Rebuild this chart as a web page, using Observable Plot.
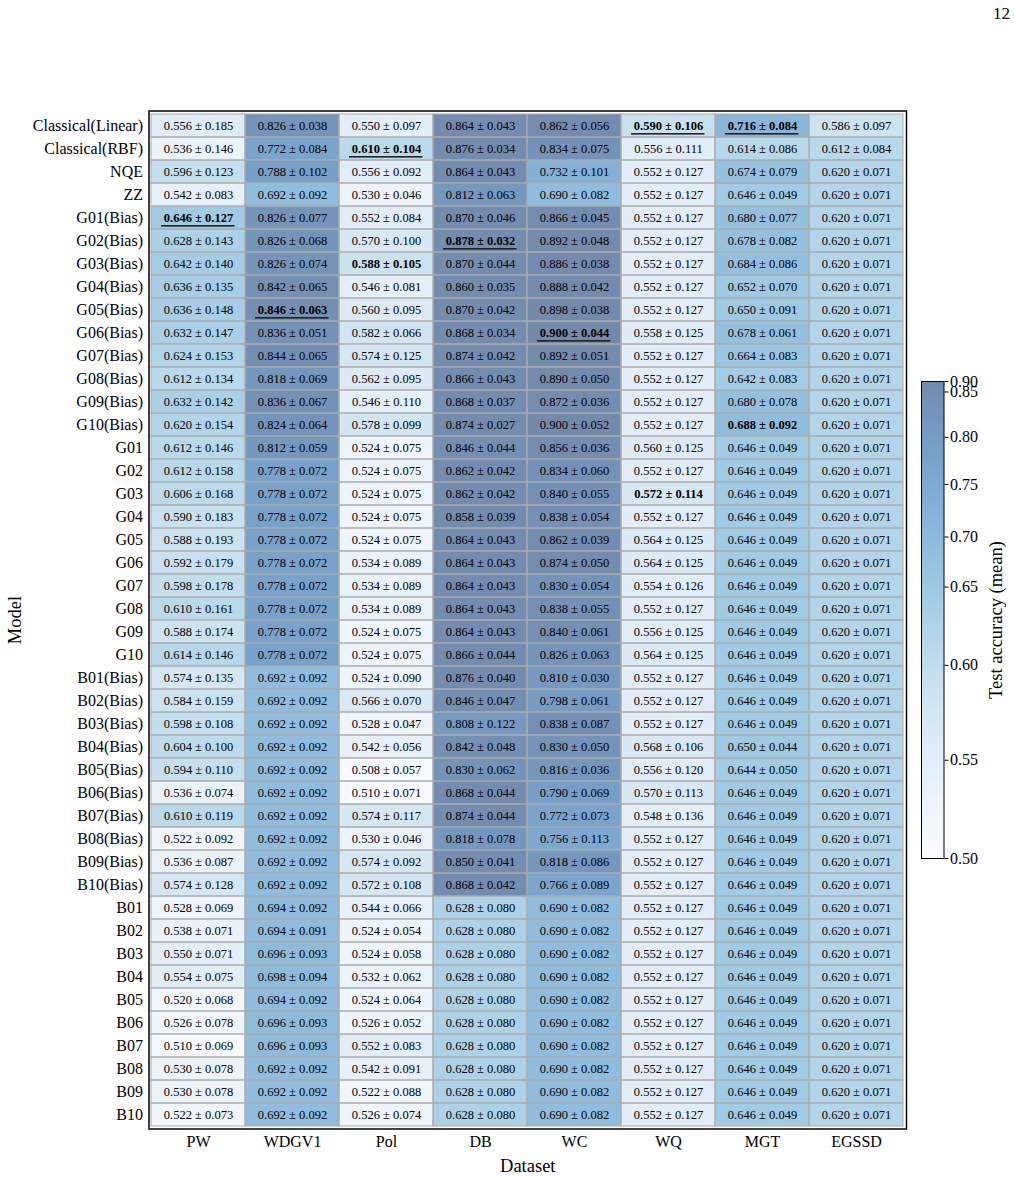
<!DOCTYPE html>
<html><head><meta charset="utf-8">
<script src="https://cdn.jsdelivr.net/npm/d3@7"></script>
<script src="https://cdn.jsdelivr.net/npm/@observablehq/plot@0.6"></script>
<style>
body{margin:0;background:#fff;}
#page{position:relative;width:1015px;height:1177px;overflow:hidden;font-family:"Liberation Serif","Times New Roman",serif;background:#fff;}
#pagenum{position:absolute;right:5px;top:4px;font-size:17px;}
#heat{position:absolute;left:0;top:0;}
#cbar{position:absolute;left:890px;top:360px;}
</style></head><body>
<div id="page"><div id="pagenum">12</div><div id="heat"></div><div id="cbar"></div></div>
<script>
const models = ["Classical(Linear)","Classical(RBF)","NQE","ZZ",
  "G01(Bias)","G02(Bias)","G03(Bias)","G04(Bias)","G05(Bias)","G06(Bias)","G07(Bias)","G08(Bias)","G09(Bias)","G10(Bias)",
  "G01","G02","G03","G04","G05","G06","G07","G08","G09","G10",
  "B01(Bias)","B02(Bias)","B03(Bias)","B04(Bias)","B05(Bias)","B06(Bias)","B07(Bias)","B08(Bias)","B09(Bias)","B10(Bias)",
  "B01","B02","B03","B04","B05","B06","B07","B08","B09","B10"];
const datasets = ["PW","WDGV1","Pol","DB","WC","WQ","MGT","EGSSD"];

const meanPW = [0.556,0.536,0.596,0.542, 0.646,0.628,0.642,0.636,0.636,0.632,0.624,0.612,0.632,0.620,
  0.612,0.612,0.606,0.590,0.588,0.592,0.598,0.610,0.588,0.614,
  0.574,0.584,0.598,0.604,0.594,0.536,0.610,0.522,0.536,0.574,
  0.528,0.538,0.550,0.554,0.520,0.526,0.510,0.530,0.530,0.522];
const stdPW = [0.185,0.146,0.123,0.083, 0.127,0.143,0.140,0.135,0.148,0.147,0.153,0.134,0.142,0.154,
  0.146,0.158,0.168,0.183,0.193,0.179,0.178,0.161,0.174,0.146,
  0.135,0.159,0.108,0.100,0.110,0.074,0.119,0.092,0.087,0.128,
  0.069,0.071,0.071,0.075,0.068,0.078,0.069,0.078,0.078,0.073];

const meanWDGV1 = [0.826,0.772,0.788,0.692, 0.826,0.826,0.826,0.842,0.846,0.836,0.844,0.818,0.836,0.824,
  0.812,0.778,0.778,0.778,0.778,0.778,0.778,0.778,0.778,0.778,
  0.692,0.692,0.692,0.692,0.692,0.692,0.692,0.692,0.692,0.692,
  0.694,0.694,0.696,0.698,0.694,0.696,0.696,0.692,0.692,0.692];
const stdWDGV1 = [0.038,0.084,0.102,0.092, 0.077,0.068,0.074,0.065,0.063,0.051,0.065,0.069,0.067,0.064,
  0.059,0.072,0.072,0.072,0.072,0.072,0.072,0.072,0.072,0.072,
  0.092,0.092,0.092,0.092,0.092,0.092,0.092,0.092,0.092,0.092,
  0.092,0.091,0.093,0.094,0.092,0.093,0.093,0.092,0.092,0.092];

const meanPol = [0.550,0.610,0.556,0.530, 0.552,0.570,0.588,0.546,0.560,0.582,0.574,0.562,0.546,0.578,
  0.524,0.524,0.524,0.524,0.524,0.534,0.534,0.534,0.524,0.524,
  0.524,0.566,0.528,0.542,0.508,0.510,0.574,0.530,0.574,0.572,
  0.544,0.524,0.524,0.532,0.524,0.526,0.552,0.542,0.522,0.526];
const stdPol = [0.097,0.104,0.092,0.046, 0.084,0.100,0.105,0.081,0.095,0.066,0.125,0.095,0.110,0.099,
  0.075,0.075,0.075,0.075,0.075,0.089,0.089,0.089,0.075,0.075,
  0.090,0.070,0.047,0.056,0.057,0.071,0.117,0.046,0.092,0.108,
  0.066,0.054,0.058,0.062,0.064,0.052,0.083,0.091,0.088,0.074];

const meanDB = [0.864,0.876,0.864,0.812, 0.870,0.878,0.870,0.860,0.870,0.868,0.874,0.866,0.868,0.874,
  0.846,0.862,0.862,0.858,0.864,0.864,0.864,0.864,0.864,0.866,
  0.876,0.846,0.808,0.842,0.830,0.868,0.874,0.818,0.850,0.868,
  0.628,0.628,0.628,0.628,0.628,0.628,0.628,0.628,0.628,0.628];
const stdDB = [0.043,0.034,0.043,0.063, 0.046,0.032,0.044,0.035,0.042,0.034,0.042,0.043,0.037,0.027,
  0.044,0.042,0.042,0.039,0.043,0.043,0.043,0.043,0.043,0.044,
  0.040,0.047,0.122,0.048,0.062,0.044,0.044,0.078,0.041,0.042,
  0.080,0.080,0.080,0.080,0.080,0.080,0.080,0.080,0.080,0.080];

const meanWC = [0.862,0.834,0.732,0.690, 0.866,0.892,0.886,0.888,0.898,0.900,0.892,0.890,0.872,0.900,
  0.856,0.834,0.840,0.838,0.862,0.874,0.830,0.838,0.840,0.826,
  0.810,0.798,0.838,0.830,0.816,0.790,0.772,0.756,0.818,0.766,
  0.690,0.690,0.690,0.690,0.690,0.690,0.690,0.690,0.690,0.690];
const stdWC = [0.056,0.075,0.101,0.082, 0.045,0.048,0.038,0.042,0.038,0.044,0.051,0.050,0.036,0.052,
  0.036,0.060,0.055,0.054,0.039,0.050,0.054,0.055,0.061,0.063,
  0.030,0.061,0.087,0.050,0.036,0.069,0.073,0.113,0.086,0.089,
  0.082,0.082,0.082,0.082,0.082,0.082,0.082,0.082,0.082,0.082];

const meanWQ = [0.590,0.556,0.552,0.552, 0.552,0.552,0.552,0.552,0.552,0.558,0.552,0.552,0.552,0.552,
  0.560,0.552,0.572,0.552,0.564,0.564,0.554,0.552,0.556,0.564,
  0.552,0.552,0.552,0.568,0.556,0.570,0.548,0.552,0.552,0.552,
  0.552,0.552,0.552,0.552,0.552,0.552,0.552,0.552,0.552,0.552];
const stdWQ = [0.106,0.111,0.127,0.127, 0.127,0.127,0.127,0.127,0.127,0.125,0.127,0.127,0.127,0.127,
  0.125,0.127,0.114,0.127,0.125,0.125,0.126,0.127,0.125,0.125,
  0.127,0.127,0.127,0.106,0.120,0.113,0.136,0.127,0.127,0.127,
  0.127,0.127,0.127,0.127,0.127,0.127,0.127,0.127,0.127,0.127];

const meanMGT = [0.716,0.614,0.674,0.646, 0.680,0.678,0.684,0.652,0.650,0.678,0.664,0.642,0.680,0.688,
  0.646,0.646,0.646,0.646,0.646,0.646,0.646,0.646,0.646,0.646,
  0.646,0.646,0.646,0.650,0.644,0.646,0.646,0.646,0.646,0.646,
  0.646,0.646,0.646,0.646,0.646,0.646,0.646,0.646,0.646,0.646];
const stdMGT = [0.084,0.086,0.079,0.049, 0.077,0.082,0.086,0.070,0.091,0.061,0.083,0.083,0.078,0.092,
  0.049,0.049,0.049,0.049,0.049,0.049,0.049,0.049,0.049,0.049,
  0.049,0.049,0.049,0.044,0.050,0.049,0.049,0.049,0.049,0.049,
  0.049,0.049,0.049,0.049,0.049,0.049,0.049,0.049,0.049,0.049];

const meanEGSSD = [0.586,0.612,0.620,0.620, 0.620,0.620,0.620,0.620,0.620,0.620,0.620,0.620,0.620,0.620,
  0.620,0.620,0.620,0.620,0.620,0.620,0.620,0.620,0.620,0.620,
  0.620,0.620,0.620,0.620,0.620,0.620,0.620,0.620,0.620,0.620,
  0.620,0.620,0.620,0.620,0.620,0.620,0.620,0.620,0.620,0.620];
const stdEGSSD = [0.097,0.084,0.071,0.071, 0.071,0.071,0.071,0.071,0.071,0.071,0.071,0.071,0.071,0.071,
  0.071,0.071,0.071,0.071,0.071,0.071,0.071,0.071,0.071,0.071,
  0.071,0.071,0.071,0.071,0.071,0.071,0.071,0.071,0.071,0.071,
  0.071,0.071,0.071,0.071,0.071,0.071,0.071,0.071,0.071,0.071];

// best overall (bold + underline) and best in group (bold only)
const underlinedCells = [["Classical(Linear)","WQ"],["Classical(Linear)","MGT"],["Classical(RBF)","Pol"],
  ["G01(Bias)","PW"],["G02(Bias)","DB"],["G05(Bias)","WDGV1"],["G06(Bias)","WC"]];
const boldOnlyCells = [["G03(Bias)","Pol"],["G10(Bias)","MGT"],["G03","WQ"]];

// colour normalisation (value -> fraction of the bar)
const normValues = [0.50,0.55,0.60,0.65,0.70,0.75,0.80,0.85,0.90];
const normStops  = [0,0.206,0.405,0.569,0.674,0.784,0.883,0.978,1];

const meansBy = {PW:meanPW, WDGV1:meanWDGV1, Pol:meanPol, DB:meanDB, WC:meanWC, WQ:meanWQ, MGT:meanMGT, EGSSD:meanEGSSD};
const stdsBy  = {PW:stdPW, WDGV1:stdWDGV1, Pol:stdPol, DB:stdDB, WC:stdWC, WQ:stdWQ, MGT:stdMGT, EGSSD:stdEGSSD};

const key = (m, d) => m + "|" + d;
const underSet = new Set(underlinedCells.map(([m, d]) => key(m, d)));
const boldSet = new Set([...underlinedCells, ...boldOnlyCells].map(([m, d]) => key(m, d)));

const cells = [];
models.forEach((m, i) => datasets.forEach(d => {
  cells.push({model: m, dataset: d, mean: meansBy[d][i], std: stdsBy[d][i],
    bold: boldSet.has(key(m, d)), under: underSet.has(key(m, d))});
}));
const label = c => `${c.mean.toFixed(3)} ± ${c.std.toFixed(3)}`;

const serif = "'Liberation Serif','Times New Roman',Times,serif";
const ALPHA = 0.565;
const colorOpts = {type: "linear", domain: normValues, range: normStops, interpolate: d3.interpolateBlues};

const W = 915, H = 1177;
const heat = Plot.plot({
  width: W, height: H,
  marginLeft: 148.5, marginRight: W - 906, marginTop: 110.5, marginBottom: H - 1128.5,
  style: {fontFamily: serif, background: "white", color: "black"},
  x: {domain: datasets, padding: 0, label: null},
  y: {domain: models, padding: 0, label: null},
  color: colorOpts,
  marks: [
    Plot.cell(cells, {x: "dataset", y: "model", fill: "mean", fillOpacity: ALPHA}),
    Plot.cell(cells, {x: "dataset", y: "model", fill: "none", stroke: "#ababab", strokeWidth: 1}),
    Plot.text(cells.filter(c => !c.bold), {x: "dataset", y: "model", text: label, fontSize: 12.5, fill: "black"}),
    Plot.text(cells.filter(c => c.bold), {x: "dataset", y: "model", text: label, fontSize: 12.5, fontWeight: "bold", fill: "black"}),
    Plot.cell(cells.filter(c => c.under), {x: "dataset", y: "model", fill: "#222",
      insetLeft: 10, insetRight: 10.5, insetTop: 19, insetBottom: 2.4}),
    Plot.frame({stroke: "black", strokeWidth: 1.5}),
    Plot.axisX({tickSize: 0, tickPadding: 7, fontSize: 16, label: null}),
    Plot.axisY({tickSize: 0, tickPadding: 6, fontSize: 16, label: null}),
    Plot.text(["Dataset"], {frameAnchor: "bottom", lineAnchor: "middle", textAnchor: "middle", dy: 37, fontSize: 18.5}),
    Plot.text(["Model"], {frameAnchor: "left", textAnchor: "middle", lineAnchor: "middle", dx: -134, rotate: -90, fontSize: 18.5})
  ]
});
document.getElementById("heat").appendChild(heat);

// colour bar
const CBW = 125, CBH = 520, barTop = 21, barBottom = 498;
const cbSamples = d3.range(0.5, 0.9, 0.001);
const cbar = Plot.plot({
  width: CBW, height: CBH,
  marginLeft: 31, marginRight: CBW - 53.5, marginTop: barTop, marginBottom: CBH - barBottom,
  style: {fontFamily: serif, background: "transparent", color: "black", overflow: "visible"},
  x: {domain: [0, 1], axis: null},
  y: {type: "linear", domain: normValues, range: normStops.map(t => barBottom - t * (barBottom - barTop)), label: null},
  color: colorOpts,
  marks: [
    Plot.rect(cbSamples, {x1: 0, x2: 1, y1: d => d, y2: d => Math.min(0.9, d + 0.001), fill: d => d + 0.0005,
      fillOpacity: ALPHA, shapeRendering: "crispEdges"}),
    Plot.frame({stroke: "black", strokeWidth: 1}),
    Plot.axisY({anchor: "right", ticks: normValues, tickFormat: d => d.toFixed(2), tickSize: 4, tickPadding: 2,
      fontSize: 16, label: null}),
    Plot.text(["Test accuracy (mean)"], {frameAnchor: "right", textAnchor: "middle", lineAnchor: "middle", dx: 52, rotate: -90, fontSize: 18.5})
  ]
});
document.getElementById("cbar").appendChild(cbar);
</script>
</body></html>
